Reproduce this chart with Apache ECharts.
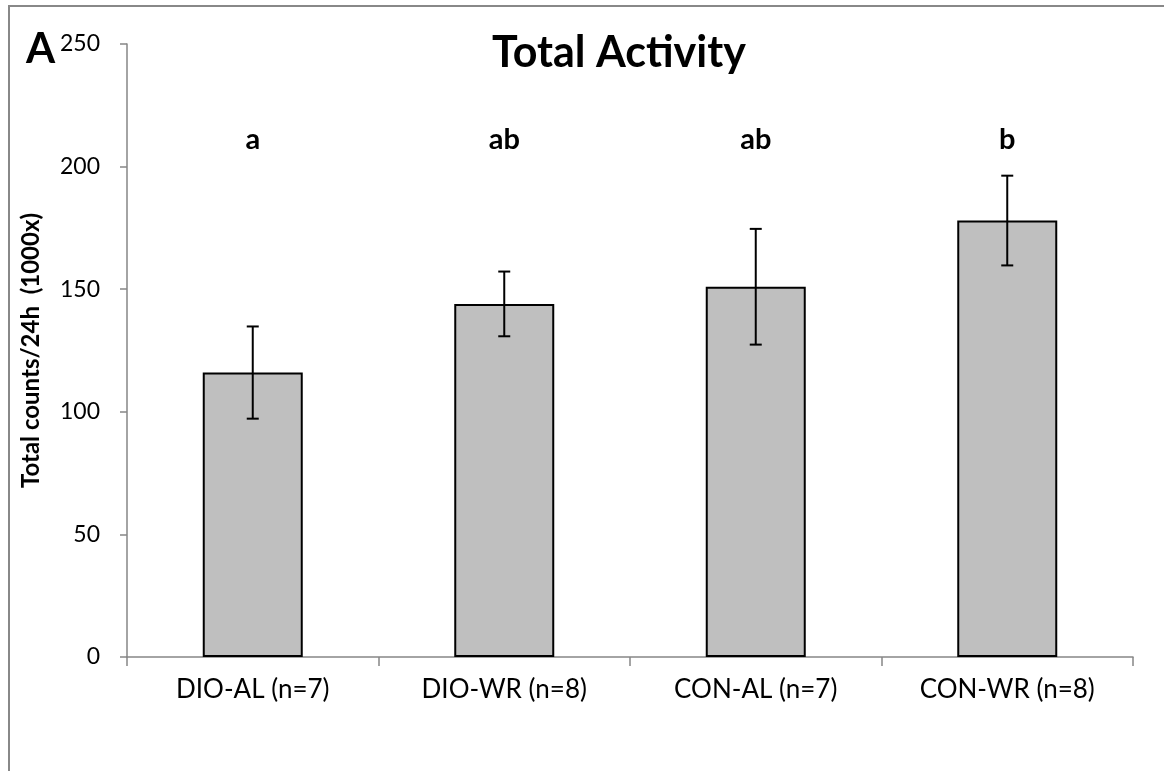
<!DOCTYPE html>
<html>
<head>
<meta charset="utf-8">
<script src="https://cdn.jsdelivr.net/npm/echarts@6/dist/echarts.min.js"></script>
<style>
  html, body { margin: 0; padding: 0; background: #fff; }
  #chart { width: 1164px; height: 771px; }
</style>
</head>
<body>
<div id="chart"></div>
<script>
// Groups and measured total activity (thousands of counts per 24 h)
const categories = ['DIO-AL (n=7)', 'DIO-WR (n=8)', 'CON-AL (n=7)', 'CON-WR (n=8)'];
const means = [116, 144, 151, 178];
const errors = [18.8, 13.2, 23.6, 18.3];
const groupLetters = ['a', 'ab', 'ab', 'b'];
const yTicks = [0, 50, 100, 150, 200, 250];

const FONT = 'Lato, "Open Sans", sans-serif';
const AXIS_GREY = '#868686';
const LETTER_LEVEL = 211;

const errorData = means.map((m, i) => [i, m - errors[i], m + errors[i]]);
const letterData = groupLetters.map((t, i) => ({ value: [i, LETTER_LEVEL], name: t }));

const chart = echarts.init(document.getElementById('chart'), null, { renderer: 'canvas' });

chart.setOption({
  animation: false,
  backgroundColor: '#fff',
  title: {
    text: 'Total Activity',
    left: 614,
    top: 27,
    textAlign: 'center',
    textStyle: { fontFamily: FONT, fontWeight: 'bold', fontSize: 43, color: '#000' }
  },
  graphic: [
    {
      type: 'rect',
      shape: { x: 9, y: 6, width: 1200, height: 820 },
      style: { fill: 'none', stroke: '#888', lineWidth: 2 },
      silent: true
    },
    {
      type: 'text',
      left: 26,
      top: 28,
      style: { text: 'A', font: 'bold 42px ' + FONT, fill: '#000' }
    }
  ],
  grid: { left: 127, right: 31, top: 44, bottom: 114 },
  xAxis: {
    type: 'category',
    data: categories,
    axisLine: { lineStyle: { color: AXIS_GREY, width: 1.5 } },
    axisTick: { show: true, length: 9, lineStyle: { color: AXIS_GREY, width: 1.5 } },
    axisLabel: { color: '#000', fontFamily: FONT, fontSize: 26, margin: 20 }
  },
  yAxis: {
    type: 'value',
    min: 0,
    max: 250,
    interval: 50,
    name: 'Total counts/24h  (1000x)',
    nameLocation: 'middle',
    nameGap: 84,
    nameTextStyle: { fontFamily: FONT, fontWeight: 'bold', fontSize: 24, color: '#000' },
    axisLine: { show: true, lineStyle: { color: AXIS_GREY, width: 1.5 } },
    axisTick: { show: true, length: 7, lineStyle: { color: AXIS_GREY, width: 1.5 } },
    splitLine: { show: false },
    axisLabel: {
      color: '#000', fontFamily: FONT, fontSize: 23, margin: 27,
      formatter: v => (yTicks.indexOf(v) >= 0 ? String(v) : '')
    }
  },
  series: [
    {
      type: 'bar',
      data: means,
      barWidth: 100,
      itemStyle: { color: '#bfbfbf', borderColor: '#000', borderWidth: 2 },
      z: 2
    },
    {
      type: 'custom',
      data: errorData,
      z: 5,
      renderItem: function (params, api) {
        const idx = api.value(0);
        const lo = api.coord([idx, api.value(1)]);
        const hi = api.coord([idx, api.value(2)]);
        const half = 6;
        const style = { stroke: '#000', lineWidth: 2 };
        return {
          type: 'group',
          children: [
            { type: 'line', shape: { x1: hi[0], y1: hi[1], x2: lo[0], y2: lo[1] }, style },
            { type: 'line', shape: { x1: hi[0] - half, y1: hi[1], x2: hi[0] + half, y2: hi[1] }, style },
            { type: 'line', shape: { x1: lo[0] - half, y1: lo[1], x2: lo[0] + half, y2: lo[1] }, style }
          ]
        };
      }
    },
    {
      type: 'scatter',
      data: letterData,
      symbolSize: 0,
      z: 6,
      itemStyle: { opacity: 1 },
      label: {
        show: true,
        position: 'inside',
        formatter: p => p.name,
        fontFamily: FONT,
        fontWeight: 'bold',
        fontSize: 29,
        color: '#000',
        opacity: 1,
        textBorderWidth: 0
      }
    }
  ]
});
</script>
</body>
</html>
